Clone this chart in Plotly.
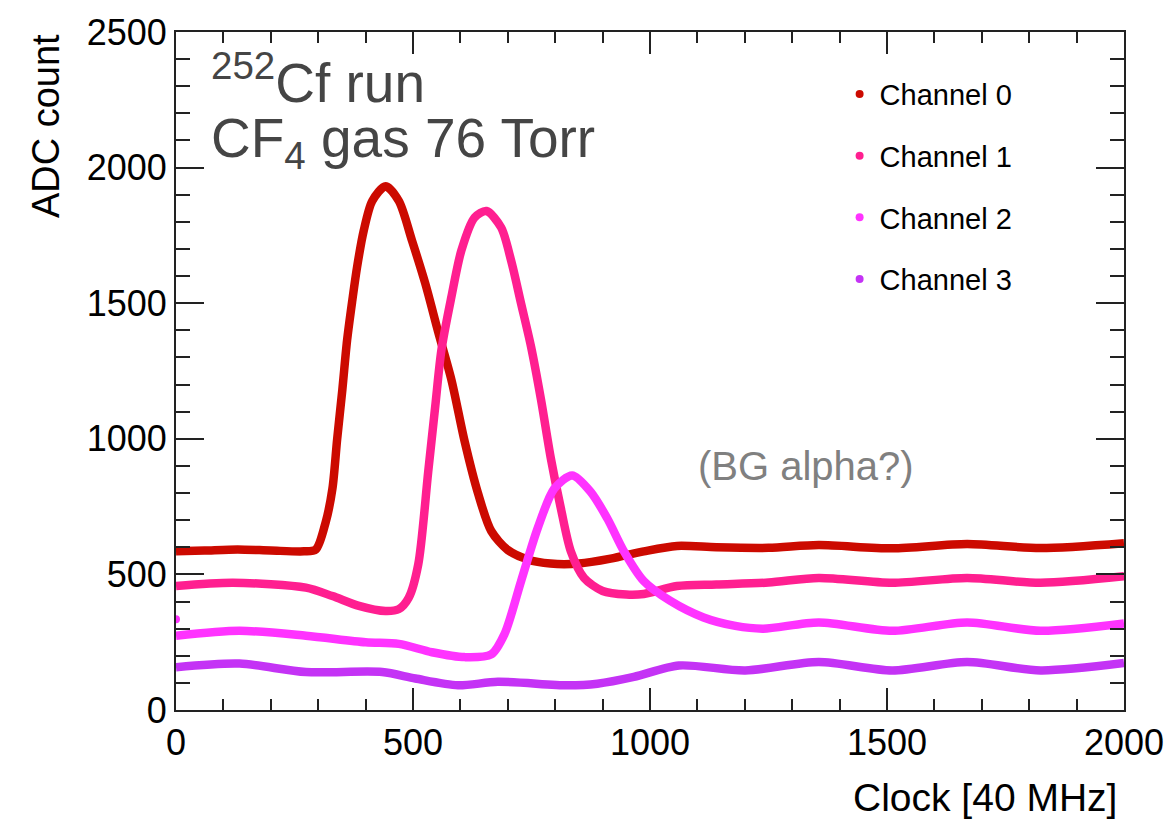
import plotly.graph_objects as go

# ---- data ----
ch0_x = [0, 60, 130, 200, 270, 295, 316, 330, 340, 351, 361, 372, 382, 396, 414, 442, 470, 498, 526, 553, 581, 609, 637, 665, 700, 742, 790, 850, 917, 987, 1057, 1140, 1250, 1356, 1511, 1669, 1824, 2000]
ch0_y = [585, 588, 592, 588, 585, 592, 694, 816, 999, 1182, 1364, 1511, 1633, 1767, 1877, 1931, 1877, 1730, 1572, 1395, 1218, 990, 800, 660, 590, 555, 540, 540, 558, 585, 605, 600, 598, 608, 596, 612, 597, 615]

ch1_x = [0, 120, 274, 330, 386, 442, 470, 491, 511, 532, 547, 560, 581, 602, 630, 655, 686, 707, 728, 749, 770, 791, 812, 833, 861, 900, 950, 987, 1057, 1140, 1250, 1356, 1511, 1669, 1824, 2000]
ch1_y = [457, 469, 451, 420, 384, 365, 372, 414, 536, 877, 1121, 1328, 1523, 1694, 1816, 1840, 1779, 1657, 1499, 1340, 1145, 926, 743, 585, 487, 439, 426, 428, 457, 463, 470, 487, 469, 487, 469, 493]

ch2_x = [0, 134, 274, 400, 470, 540, 609, 665, 693, 728, 763, 798, 836, 875, 910, 945, 987, 1043, 1113, 1180, 1239, 1356, 1511, 1669, 1824, 2000]
ch2_y = [274, 292, 274, 250, 244, 213, 195, 205, 280, 475, 670, 816, 865, 804, 706, 585, 475, 402, 341, 310, 300, 323, 292, 323, 292, 319]
ch2_first_x = [0]
ch2_first_y = [335]

ch3_x = [0, 134, 274, 435, 505, 595, 679, 826, 889, 966, 1061, 1201, 1356, 1511, 1669, 1824, 2000]
ch3_y = [158, 171, 140, 140, 116, 91, 104, 91, 97, 122, 164, 146, 177, 146, 177, 146, 173]

names = ["Channel 0", "Channel 1", "Channel 2", "Channel 3"]
colors = ["#cc0a00", "#ff1f90", "#ff33ff", "#c433f5"]
x_ticks = [0, 500, 1000, 1500, 2000]
y_ticks = [0, 500, 1000, 1500, 2000, 2500]

FONT = "Liberation Sans, Arial, Helvetica, sans-serif"

fig = go.Figure()
series = [(ch0_x, ch0_y), (ch1_x, ch1_y), (ch2_x, ch2_y), (ch3_x, ch3_y)]
for (xs, ys), c in zip(series, colors):
    fig.add_trace(go.Scatter(x=xs, y=ys, mode="lines",
                             line=dict(color=c, width=8.5, shape="spline", smoothing=0.8),
                             showlegend=False, hoverinfo="skip"))
fig.add_trace(go.Scatter(x=ch2_first_x, y=ch2_first_y, mode="markers",
                         marker=dict(color=colors[2], size=8), showlegend=False))

for i, (n, c) in enumerate(zip(names, colors)):
    fig.add_trace(go.Scatter(x=[None], y=[None], mode="markers", name=n,
                             legendgroup=n,
                             marker=dict(color=c, size=8)))

axis_common = dict(showline=True, linecolor="#222", linewidth=2, mirror="ticks",
                   ticks="inside", tickcolor="#222", tickwidth=1.5,
                   showgrid=False, zeroline=False,
                   tickfont=dict(family=FONT, size=36, color="black"))

fig.update_xaxes(range=[0, 2000], tickvals=x_ticks, ticklen=22,
                 minor=dict(dtick=100, ticklen=11, ticks="inside", tickcolor="#222", tickwidth=1.5),
                 **axis_common)
fig.update_yaxes(range=[0, 2500], tickvals=y_ticks, ticklen=28,
                 minor=dict(dtick=100, ticklen=14, ticks="inside", tickcolor="#222", tickwidth=1.5),
                 **axis_common)

fig.update_layout(
    width=1176, height=826,
    margin=dict(l=176, r=46, t=26, b=116),
    plot_bgcolor="white", paper_bgcolor="white",
    font=dict(family=FONT, color="black"),
    legend=dict(x=0.70, y=0.946, xanchor="left", yanchor="top",
                font=dict(family=FONT, size=29, color="black"),
                tracegroupgap=21, bgcolor="rgba(0,0,0,0)"),
    annotations=[
        dict(text="ADC count", xref="paper", yref="paper", x=-0.137, y=1.0,
             xanchor="center", yanchor="top", textangle=-90, showarrow=False,
             font=dict(family=FONT, size=38, color="black")),
        dict(text="Clock [40 MHz]", xref="paper", yref="paper", x=0.995, y=-0.095,
             xanchor="right", yanchor="top", showarrow=False,
             font=dict(family=FONT, size=39, color="black")),
        dict(text="<sup>252</sup>Cf run", xref="paper", yref="paper", x=0.035, y=0.985,
             xanchor="left", yanchor="top", showarrow=False,
             font=dict(family=FONT, size=55, color="#454545")),
        dict(text="CF<sub>4</sub> gas 76 Torr", xref="paper", yref="paper", x=0.035, y=0.893,
             xanchor="left", yanchor="top", showarrow=False,
             font=dict(family=FONT, size=55, color="#454545")),
        dict(text="(BG alpha?)", xref="paper", yref="paper", x=0.665, y=0.36,
             xanchor="center", yanchor="middle", showarrow=False,
             font=dict(family=FONT, size=40, color="#808080")),
    ],
)

fig.write_html("out.html", config={"displayModeBar": False},
               post_script="document.body.style.margin='0';")
